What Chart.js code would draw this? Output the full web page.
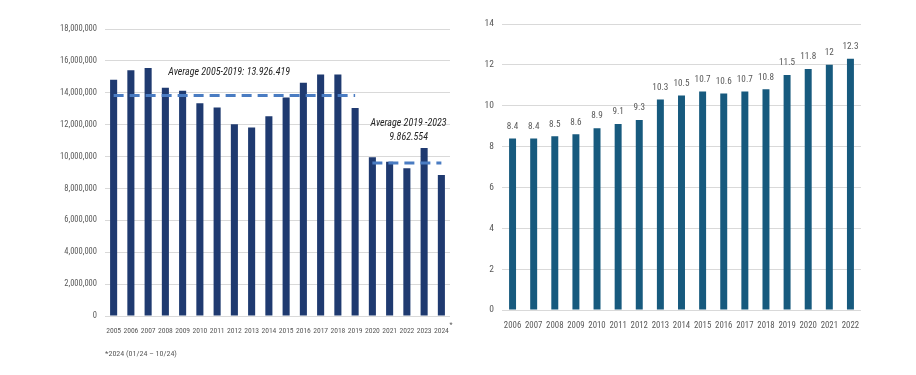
<!DOCTYPE html>
<html>
<head>
<meta charset="utf-8">
<script src="https://cdn.jsdelivr.net/npm/chart.js@4.4.1/dist/chart.umd.min.js"></script>
<style>
    html, body { margin: 0; padding: 0; background: #fff; }
    #wrap { position: relative; width: 916px; height: 375px; }
    #leftChart { position: absolute; left: 0; top: 0; }
    #rightChart { position: absolute; left: 460px; top: 0; }
</style>
</head>
<body>
<div id="wrap">
    <canvas id="leftChart" width="460" height="375"></canvas>
    <canvas id="rightChart" width="456" height="375"></canvas>
</div>
<script>
// Left chart: yearly totals 2005-2024
const leftYears = ['2005', '2006', '2007', '2008', '2009', '2010', '2011', '2012', '2013', '2014',
    '2015', '2016', '2017', '2018', '2019', '2020', '2021', '2022', '2023', '2024'];
const leftValues = [14820000, 15410000, 15560000, 14320000, 14130000, 13350000, 13080000, 12030000, 11820000, 12530000,
    13710000, 14630000, 15140000, 15140000, 13040000, 9960000, 9680000, 9260000, 10540000, 8840000];
// Average levels as drawn in the picture
const avgFirstLine = [13830000, 13830000, 13830000, 13830000, 13830000, 13830000, 13830000, 13830000, 13830000, 13830000,
    13830000, 13830000, 13830000, 13830000, 13830000, null, null, null, null, null];
const avgSecondLine = [null, null, null, null, null, null, null, null, null, null,
    null, null, null, null, null, 9600000, 9600000, 9600000, 9600000, 9600000];
const leftTicks = [0, 2000000, 4000000, 6000000, 8000000, 10000000, 12000000, 14000000, 16000000, 18000000];
const leftNotes = [
    { text: 'Average 2005-2019: 13.926.419', at: 6.7, value: 15300000 },
    { text: 'Average 2019 -2023', at: 17.1, value: 12100000 },
    { text: '9.862.554', at: 17.1, value: 11220000 }
];
const footnote = '*2024 (01/24 \u2013 10/24)';

// Right chart: 2006-2022
const rightYears = ['2006', '2007', '2008', '2009', '2010', '2011', '2012', '2013', '2014',
    '2015', '2016', '2017', '2018', '2019', '2020', '2021', '2022'];
const rightValues = [8.4, 8.4, 8.5, 8.6, 8.9, 9.1, 9.3, 10.3, 10.5, 10.7, 10.6, 10.7, 10.8, 11.5, 11.8, 12, 12.3];

const FONT = "'Roboto Condensed', Carlito, sans-serif";
Chart.defaults.font.family = FONT;
Chart.defaults.color = '#595959';

// Подписи средних значений и сноска
const leftNotesPlugin = {
    id: 'leftNotesPlugin',
    afterDatasetsDraw(chart) {
        const { ctx, scales: { x, y } } = chart;
        ctx.save();
        ctx.fillStyle = '#262626';
        ctx.font = 'italic 10px ' + FONT;
        ctx.textAlign = 'center';
        ctx.textBaseline = 'middle';
        leftNotes.forEach(n => {
            ctx.fillText(n.text, x.getPixelForValue(n.at), y.getPixelForValue(n.value));
        });
        // asterisk after 2024
        ctx.fillStyle = '#595959';
        ctx.font = '7px ' + FONT;
        ctx.textAlign = 'left';
        ctx.fillText('*', x.getPixelForValue(19) + 8, chart.chartArea.bottom + 9);
        // footnote
        ctx.font = '8px ' + FONT;
        ctx.fillText(footnote, chart.chartArea.left, chart.chartArea.bottom + 38);
        ctx.restore();
    }
};

// Подписи значений над столбцами
const barLabelsPlugin = {
    id: 'barLabelsPlugin',
    afterDatasetsDraw(chart) {
        const { ctx } = chart;
        const meta = chart.getDatasetMeta(0);
        ctx.save();
        ctx.fillStyle = '#595959';
        ctx.font = '9.2px ' + FONT;
        ctx.textAlign = 'center';
        ctx.textBaseline = 'middle';
        meta.data.forEach((bar, i) => {
            ctx.fillText(String(rightValues[i]), bar.x, bar.y - 12);
        });
        ctx.restore();
    }
};

new Chart(document.getElementById('leftChart'), {
    type: 'bar',
    data: {
        labels: leftYears,
        datasets: [
            {
                type: 'line',
                data: avgFirstLine,
                borderColor: '#4a7cc2',
                borderWidth: 3,
                borderDash: [10, 6],
                pointRadius: 0,
                spanGaps: false,
                order: 0
            },
            {
                type: 'line',
                data: avgSecondLine,
                borderColor: '#4a7cc2',
                borderWidth: 3,
                borderDash: [10, 6],
                pointRadius: 0,
                spanGaps: false,
                order: 0
            },
            {
                data: leftValues,
                backgroundColor: '#1f3a70',
                categoryPercentage: 1,
                barPercentage: 0.41,
                order: 1
            }
        ]
    },
    options: {
        responsive: false,
        animation: false,
        layout: { padding: { left: 0, right: 10, top: 29, bottom: 29 } },
        plugins: { legend: { display: false }, tooltip: { enabled: false } },
        scales: {
            x: {
                grid: { display: false },
                border: { display: false },
                ticks: { font: { size: 7.6 }, color: '#595959', autoSkip: false, maxRotation: 0, padding: 3 },
                afterFit(scale) { scale.height = 30; }
            },
            y: {
                min: 0,
                max: 18000000,
                afterBuildTicks(scale) { scale.ticks = leftTicks.map(v => ({ value: v })); },
                grid: { color: '#d9d9d9', drawTicks: false },
                border: { display: false },
                ticks: {
                    font: { size: 8.5 },
                    color: '#595959',
                    padding: 8,
                    callback: v => v.toLocaleString('en-US')
                },
                afterFit(scale) { scale.width = 105; }
            }
        }
    },
    plugins: [leftNotesPlugin]
});

new Chart(document.getElementById('rightChart'), {
    type: 'bar',
    data: {
        labels: rightYears,
        datasets: [{
            data: rightValues,
            backgroundColor: '#175a7e',
            categoryPercentage: 1,
            barPercentage: 0.33
        }]
    },
    options: {
        responsive: false,
        animation: false,
        layout: { padding: { left: 0, right: 55, top: 24, bottom: 35 } },
        plugins: { legend: { display: false }, tooltip: { enabled: false } },
        scales: {
            x: {
                grid: { display: false },
                border: { display: false },
                ticks: { font: { size: 8.8 }, color: '#595959', autoSkip: false, maxRotation: 0, padding: 3 },
                afterFit(scale) { scale.height = 30; }
            },
            y: {
                min: 0,
                max: 14,
                grid: { color: '#d9d9d9', drawTicks: false },
                border: { display: false },
                ticks: { stepSize: 2, font: { size: 9.5 }, color: '#595959', padding: 8 },
                afterFit(scale) { scale.width = 42; }
            }
        }
    },
    plugins: [barLabelsPlugin]
});
</script>
</body>
</html>
